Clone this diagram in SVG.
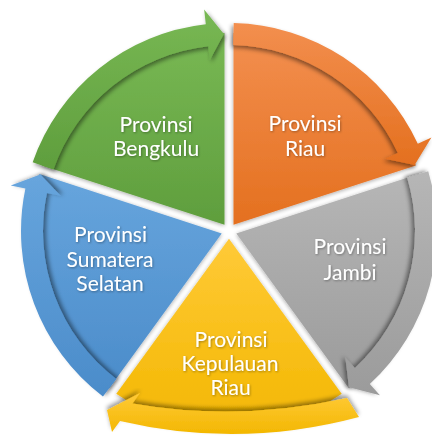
<svg xmlns="http://www.w3.org/2000/svg" width="432" height="436" viewBox="0 0 432 436">
  <style>
    .t { font-family: Lato, "Open Sans", "Liberation Sans", sans-serif; font-size: 21px; fill: #ffffff; text-anchor: middle; filter: url(#tshadow); }
    .wedge { filter: url(#wshadow); }
  </style>
  <defs>
    <linearGradient id="gGreen" x1="0" y1="0" x2="0" y2="1"><stop offset="0" stop-color="#78b854"/><stop offset="1" stop-color="#5f9e3d"/></linearGradient>
    <linearGradient id="gOrange" x1="0" y1="0" x2="0" y2="1"><stop offset="0" stop-color="#f38f4f"/><stop offset="1" stop-color="#e4701f"/></linearGradient>
    <linearGradient id="gGray" x1="0" y1="0" x2="0" y2="1"><stop offset="0" stop-color="#b6b6b6"/><stop offset="1" stop-color="#9b9b9b"/></linearGradient>
    <linearGradient id="gYellow" x1="0" y1="0" x2="0" y2="1"><stop offset="0" stop-color="#ffca38"/><stop offset="1" stop-color="#f3b700"/></linearGradient>
    <linearGradient id="gBlue" x1="0" y1="0" x2="0" y2="1"><stop offset="0" stop-color="#67a5dd"/><stop offset="1" stop-color="#4b8cca"/></linearGradient>
    <filter id="wshadow" x="-10%" y="-10%" width="120%" height="120%">
      <feDropShadow dx="0" dy="1" stdDeviation="2" flood-color="#000" flood-opacity="0.35"/>
    </filter>
    <filter id="sGreen" x="-10%" y="-10%" width="120%" height="120%"><feDropShadow dx="1.8" dy="2.4" stdDeviation="2" flood-color="#000" flood-opacity="0.45"/></filter>
    <filter id="sOrange" x="-10%" y="-10%" width="120%" height="120%"><feDropShadow dx="-1.8" dy="2.4" stdDeviation="2" flood-color="#000" flood-opacity="0.45"/></filter>
    <filter id="sGray" x="-10%" y="-10%" width="120%" height="120%"><feDropShadow dx="-2.8" dy="-0.9" stdDeviation="2" flood-color="#000" flood-opacity="0.45"/></filter>
    <filter id="sYellow" x="-10%" y="-10%" width="120%" height="120%"><feDropShadow dx="0" dy="-3" stdDeviation="2" flood-color="#000" flood-opacity="0.4"/></filter>
    <filter id="sBlue" x="-10%" y="-10%" width="120%" height="120%"><feDropShadow dx="2.8" dy="-0.9" stdDeviation="2" flood-color="#000" flood-opacity="0.45"/></filter>
    <filter id="tshadow" x="-10%" y="-20%" width="120%" height="140%">
      <feDropShadow dx="0.8" dy="1" stdDeviation="0.8" flood-color="#000" flood-opacity="0.35"/>
    </filter>
  </defs>

  <g id="node-bengkulu">
    <path class="wedge" d="M224.5,224.8 L42.1,165.6 A198,198 0 0 1 224.5,33.1 Z" fill="url(#gGreen)"/>
    <text class="t" x="156" y="131.5">Provinsi</text>
    <text class="t" x="156" y="156">Bengkulu</text>
  </g>
  <g id="node-riau">
    <path class="wedge" d="M233.5,224.8 L233.5,33.1 A198,198 0 0 1 415.9,165.6 Z" fill="url(#gOrange)"/>
    <text class="t" x="305" y="130.5">Provinsi</text>
    <text class="t" x="305" y="156">Riau</text>
  </g>
  <g id="node-jambi">
    <path class="wedge" d="M236.3,233.4 L418.6,174.1 A198,198 0 0 1 349.0,388.5 Z" fill="url(#gGray)"/>
    <text class="t" x="350" y="254">Provinsi</text>
    <text class="t" x="350" y="279.5">Jambi</text>
  </g>
  <g id="node-kepulauan-riau">
    <path class="wedge" d="M229,238.7 L341.7,393.8 A198,198 0 0 1 116.3,393.8 Z" fill="url(#gYellow)"/>
    <text class="t" x="231" y="347">Provinsi</text>
    <text class="t" x="230" y="371">Kepulauan</text>
    <text class="t" x="230.5" y="395">Riau</text>
  </g>
  <g id="node-sumatera-selatan">
    <path class="wedge" d="M221.7,233.4 L109.0,388.5 A198,198 0 0 1 39.4,174.1 Z" fill="url(#gBlue)"/>
    <text class="t" x="110.5" y="242">Provinsi</text>
    <text class="t" x="110" y="267">Sumatera</text>
    <text class="t" x="110" y="291">Selatan</text>
  </g>

  <g id="connectors">
    <path d="M32.69,162.25 A208,208 0 0 1 205.81,24.30 L204.14,9.39 L223.84,34.07 L209.83,60.07 L208.27,46.16 A186,186 0 0 0 53.45,169.53 Z" fill="url(#gGreen)" filter="url(#sGreen)"/>
    <path d="M233.72,23.05 A208,208 0 0 1 417.82,143.75 L431.43,137.46 L414.59,164.92 L385.14,158.85 L397.85,152.98 A186,186 0 0 0 233.22,45.05 Z" fill="url(#gOrange)" filter="url(#sOrange)"/>
    <path d="M428.23,171.23 A208,208 0 0 1 369.79,384.11 L379.94,395.15 L348.93,387.29 L345.42,357.61 L354.90,367.91 A186,186 0 0 0 407.15,177.55 Z" fill="url(#gGray)" filter="url(#sGray)"/>
    <path d="M359,417 Q239.5,449 120,421 L112,432 L107,410 L140,393 L132.5,403.5 Q238.5,422 347,398 Z" fill="url(#gYellow)" filter="url(#sYellow)"/>
    <path d="M102.95,396.46 A208,208 0 0 1 25.40,188.46 L10.71,185.40 L40.31,174.39 L60.63,195.83 L46.93,192.96 A186,186 0 0 0 116.29,378.96 Z" fill="url(#gBlue)" filter="url(#sBlue)"/>
  </g>
</svg>
